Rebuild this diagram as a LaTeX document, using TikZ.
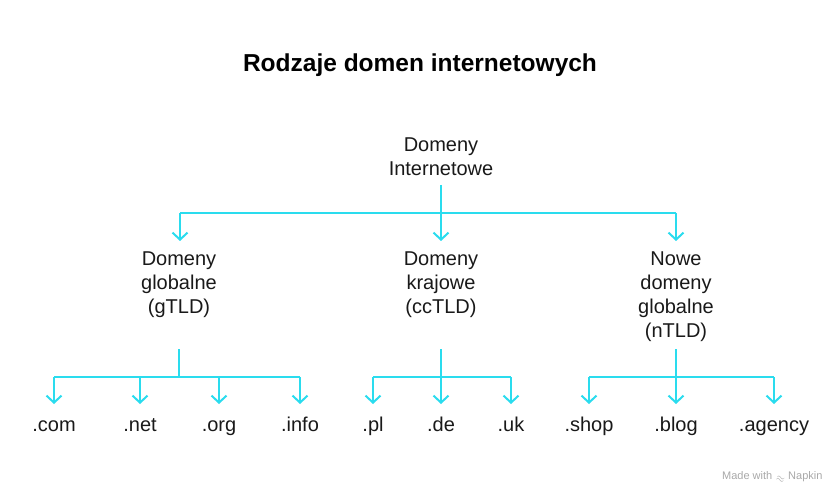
\documentclass[tikz,border=0pt]{standalone}
\usepackage{fontspec}
\setmainfont{Liberation Sans}
\usetikzlibrary{arrows.meta}
\definecolor{conn}{HTML}{2ADCEE}
\definecolor{wm}{HTML}{A8A8A8}
\begin{document}
\begin{tikzpicture}[x=1pt,y=-1pt,
  lbl/.style={align=center,font=\fontsize{20}{24}\selectfont,inner sep=0pt,text=black!90},
  leaf/.style={font=\fontsize{20}{24}\selectfont,inner sep=0pt,text=black!90,anchor=base},
  link/.style={draw=conn,line width=2pt},
  arr/.style={link,-{Straight Barb[length=7pt,width=15pt,line width=2pt]}}]
\useasboundingbox (0,0) rectangle (840,494);
\node[font=\bfseries\fontsize{24.5}{28}\selectfont] (title) at (420,65) {Rodzaje domen internetowych};
\node[lbl] (root) at (441,157) {Domeny\\Internetowe};
\node[lbl] (g) at (179,285) {Domeny\\globalne\\(gTLD)};
\node[lbl] (cc) at (441,285) {Domeny\\krajowe\\(ccTLD)};
\node[lbl] (n) at (676,297) {Nowe\\domeny\\globalne\\(nTLD)};
\node[leaf] (com) at (54,431) {.com};
\node[leaf] (net) at (140,431) {.net};
\node[leaf] (org) at (219,431) {.org};
\node[leaf] (info) at (300,431) {.info};
\node[leaf] (pl) at (373,431) {.pl};
\node[leaf] (de) at (441,431) {.de};
\node[leaf] (uk) at (511,431) {.uk};
\node[leaf] (shop) at (589,431) {.shop};
\node[leaf] (blog) at (676,431) {.blog};
\node[leaf] (agency) at (774,431) {.agency};
% root connectors
\coordinate (rs) at (441,185);
\coordinate (rj) at (441,213);
\draw[link] (rs) -- (rj);
\draw[link] (180,213) -- (676,213);
\draw[arr] (180,213) -- (180,241);
\draw[arr] (rj) -- (441,241);
\draw[arr] (676,213) -- (676,241);
% gTLD
\draw[link] (179,349) -- (179,377);
\draw[link] (54,377) -- (300,377);
\foreach \x in {54,140,219,300} \draw[arr] (\x,377) -- (\x,404);
% ccTLD
\draw[link] (441,349) -- (441,377);
\draw[link] (373,377) -- (511,377);
\foreach \x in {373,441,511} \draw[arr] (\x,377) -- (\x,404);
% nTLD
\draw[link] (676,349) -- (676,377);
\draw[link] (589,377) -- (774,377);
\foreach \x in {589,676,774} \draw[arr] (\x,377) -- (\x,404);
\node[font=\fontsize{11}{13}\selectfont,text=wm,anchor=east] (wmk) at (826,477) {Made with \raisebox{-1pt}{\rotatebox{-20}{$\approx$}} Napkin};
\end{tikzpicture}
\end{document}
